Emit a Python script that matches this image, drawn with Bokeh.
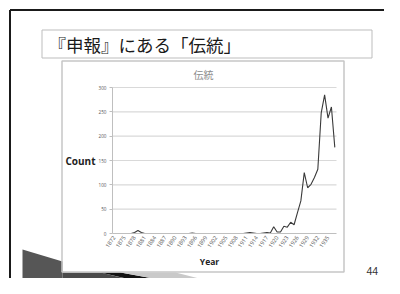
import math
from bokeh.plotting import figure
from bokeh.models import FixedTicker, Range1d
from bokeh.core.properties import value
from bokeh.embed import file_html
from bokeh.resources import INLINE

# ---- data ----
years = list(range(1872, 1938))
counts = [0, 0, 0, 0, 0, 0, 2, 6, 2, 0,          # 1872-1881
          0, 0, 0, 0, 0, 0, 0, 0, 0, 0,          # 1882-1891
          0, 0, 0, 1, 0, 0, 0, 0, 0, 0,          # 1892-1901
          0, 0, 0, 0, 0, 0, 0, 0, 0, 1,          # 1902-1911
          2, 1, 0, 0, 1, 2, 1, 14, 3, 3,         # 1912-1921
          15, 13, 23, 18, 43, 67, 125, 94, 101, 115,  # 1922-1931
          132, 248, 285, 237, 260, 177]          # 1932-1937
x_tick_years = list(range(1872, 1936, 3))
y_ticks = [0, 50, 100, 150, 200, 250, 300]
slide_title = "『申報』にある「伝統」"
chart_title = "伝統"
x_label = "Year"
y_label = "Count"
page_no = "44"

# ---- geometry (picture pixels; the canvas is drawn at the picture origin) ----
X0, X1, Y0, Y1 = 0, 384, 0, 278
PL, PR, PT, PB = 112, 336, 87, 233          # plot area
XLO, XHI = 1871.5, 1937.5                   # category extent
YLO, YHI = 0, 300

kx = (PR - PL) / (XHI - XLO)
ky = (PB - PT) / (YHI - YLO)
x_range = Range1d(XLO - (PL - X0) / kx, XHI + (X1 - PR) / kx)
y_range = Range1d(YLO - (Y1 - PB) / ky, YHI + (PT - Y0) / ky)

p = figure(width=X1 - X0, height=Y1 - Y0, output_backend="svg",
           toolbar_location=None, x_range=x_range, y_range=y_range,
           min_border=0, min_border_left=0, min_border_right=0,
           min_border_top=0, min_border_bottom=0)
p.title.visible = False
p.outline_line_color = None
p.background_fill_color = "white"
p.border_fill_color = "white"
p.grid.visible = False
p.extra_x_ranges = {"px": Range1d(X0, X1)}
p.extra_y_ranges = {"px": Range1d(Y1, Y0)}
PX = dict(x_range_name="px", y_range_name="px")

# ---- slide decorations (picture pixel coordinates) ----
p.patches(xs=[[22, 62, 62, 22],
              [62, 100, 215, 62],
              [100, 120, 240, 220],
              [120, 175, 250, 240]],
          ys=[[249, 261, 300, 300],
              [272, 272, 300, 300],
              [272, 272, 294, 300],
              [272, 272, 291, 294]],
          fill_color=["#565656", "#4a4a4a", "#121212", "#c9c9c9"],
          line_color=None, **PX)
p.segment(x0=[9.5, 9.5], y0=[9.5, 9.5], x1=[600, 9.5], y1=[9.5, 600],
          line_color="#1a1a1a", line_width=2, **PX)
p.quad(left=41.5, right=371.5, top=29.5, bottom=57.5,
       fill_color=None, line_color="#bdbdbd", line_width=1, **PX)
p.quad(left=61.5, right=343.5, top=60.5, bottom=271.5,
       fill_color=None, line_color="#c6c6c6", line_width=1.5, **PX)

p.text(x=[48], y=[44], text=[slide_title], text_font=value("Noto Sans CJK JP"),
       text_font_size="17.5px", text_color="#1a1a1a",
       text_align="left", text_baseline="middle", **PX)
p.text(x=[203], y=[74], text=[chart_title], text_font=value("Noto Sans CJK JP"),
       text_font_size="10px", text_color="#8c8c8c",
       text_align="center", text_baseline="middle", **PX)
p.text(x=[95], y=[160], text=[y_label], text_font=value("Open Sans"),
       text_font_style="bold", text_font_size="10px", text_color="#222222",
       text_align="right", text_baseline="middle", **PX)
p.text(x=[209], y=[261], text=[x_label], text_font=value("Open Sans"),
       text_font_style="bold", text_font_size="8.5px", text_color="#222222",
       text_align="center", text_baseline="middle", **PX)
p.text(x=[366], y=[270], text=[page_no], text_font=value("Liberation Sans"),
       text_font_size="10.5px", text_color="#333333",
       text_align="left", text_baseline="alphabetic", **PX)

# ---- chart: grid lines, axes, series ----
p.segment(x0=XLO, x1=XHI, y0=y_ticks[1:], y1=y_ticks[1:],
          line_color="#d9d9d9", line_width=1.2)

p.yaxis.fixed_location = XLO
p.yaxis.bounds = (YLO, YHI)
p.yaxis.ticker = FixedTicker(ticks=y_ticks)
p.yaxis.axis_line_color = "#bfbfbf"
p.yaxis.major_tick_line_color = "#bfbfbf"
p.yaxis.major_tick_out = 3
p.yaxis.major_tick_in = 0
p.yaxis.minor_tick_line_color = None
p.yaxis.major_label_text_font = "Open Sans"
p.yaxis.major_label_text_font_size = "4.6px"
p.yaxis.major_label_text_color = "#555555"
p.yaxis.major_label_standoff = 3

p.xaxis.fixed_location = YLO
p.xaxis.bounds = (XLO, XHI)
p.xaxis.ticker = FixedTicker(ticks=x_tick_years)
p.xaxis.axis_line_color = "#bfbfbf"
p.xaxis.major_tick_line_color = None
p.xaxis.major_tick_out = 0
p.xaxis.major_tick_in = 0
p.xaxis.minor_tick_line_color = None
p.xaxis.major_label_orientation = math.radians(55)
p.xaxis.major_label_text_font = "Open Sans"
p.xaxis.major_label_text_font_size = "5.6px"
p.xaxis.major_label_text_color = "#555555"
p.xaxis.major_label_standoff = 3

p.line(years, counts, line_color="#3a3a3a", line_width=1.1)

open("out.html", "w").write(file_html(p, INLINE))
